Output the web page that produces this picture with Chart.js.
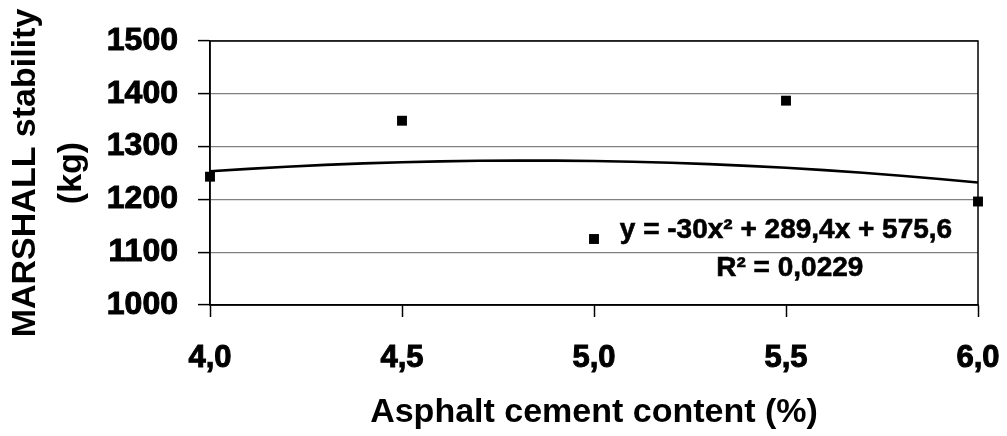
<!DOCTYPE html>
<html>
<head>
<meta charset="utf-8">
<script src="https://cdn.jsdelivr.net/npm/chart.js@4.4.1/dist/chart.umd.min.js"></script>
<style>
  html, body { margin: 0; padding: 0; background: #fff; }
  #wrap { width: 1007px; height: 436px; }
</style>
</head>
<body>
<div id="wrap"><canvas id="myChart"></canvas></div>
<script>
// Data

const acContent = [4.0, 4.5, 5.0, 5.5, 6.0]
const stability = [1243, 1349, 1125, 1387, 1196]
const xTicks = [4.0, 4.5, 5.0, 5.5, 6.0]
const yTicks = [1000, 1100, 1200, 1300, 1400, 1500]

// Polynomial trendline, coefficients as printed on the chart (c0, c1, c2)
const trendCoef = [575.6, 289.4, -30]
const trendX = [4.0, 4.1, 4.2, 4.3, 4.4, 4.5, 4.6, 4.7, 4.8, 4.9, 5.0,
  5.1, 5.2, 5.3, 5.4, 5.5, 5.6, 5.7, 5.8, 5.9, 6.0]
const eqText = ["y = -30x\u00B2 + 289,4x + 575,6", "R\u00B2 = 0,0229"]

const trendPts = trendX.map(x => ({ x: x, y: trendCoef[0] + trendCoef[1] * x + trendCoef[2] * x * x }))
const points = acContent.map((x, i) => ({ x: x, y: stability[i] }))

const comma = v => v.toFixed(1).replace(".", ",")

// Plot frame + equation label
const frameAndLabel = {
  id: "frameAndLabel",
  afterDatasetsDraw(chart) {
    const { ctx, chartArea: a, scales } = chart
    ctx.save()
    ctx.strokeStyle = "#000"
    ctx.lineWidth = 1.5
    ctx.strokeRect(a.left, a.top, a.right - a.left, a.bottom - a.top)
    ctx.fillStyle = "#000"
    ctx.font = 'bold 28px "Liberation Sans", Arial, sans-serif'
    ctx.textAlign = "center"
    ctx.textBaseline = "middle"
    ctx.lineWidth = 0.6
    const e1 = [scales.x.getPixelForValue(5.5), scales.y.getPixelForValue(1142)]
    const e2 = [scales.x.getPixelForValue(5.51), scales.y.getPixelForValue(1070)]
    ctx.fillText(eqText[0], e1[0], e1[1])
    ctx.strokeText(eqText[0], e1[0], e1[1])
    ctx.fillText(eqText[1], e2[0], e2[1])
    ctx.strokeText(eqText[1], e2[0], e2[1])
    ctx.restore()
  },
}

const ctx = document.getElementById("myChart")

new Chart(ctx, {
  type: "scatter",
  data: {
    datasets: [
      {
        label: "Stability",
        data: points,
        pointStyle: "rect",
        pointRadius: 7,
        pointHoverRadius: 7,
        backgroundColor: "#000",
        borderColor: "#000",
        borderWidth: 0,
        clip: false,
        order: 0,
      },
      {
        label: "Trend",
        type: "line",
        data: trendPts,
        borderColor: "#000",
        borderWidth: 2.6,
        pointRadius: 0,
        fill: false,
        order: 1,
      },
    ],
  },
  options: {
    responsive: true,
    maintainAspectRatio: false,
    animation: false,
    layout: { padding: { top: 41, right: 29, left: 0, bottom: 0 } },
    plugins: {
      legend: { display: false },
      tooltip: { enabled: false },
    },
    scales: {
      x: {
        type: "linear",
        min: 4,
        max: 6,
        afterBuildTicks: s => { s.ticks = xTicks.map(v => ({ value: v })) },
        afterFit: s => {
          s.height = 131
          s.paddingLeft = 0
          s.paddingRight = 0
        },
        border: { display: true, color: "#000", width: 1.5 },
        grid: { drawOnChartArea: false, drawTicks: true, tickLength: 12, tickColor: "#000", tickWidth: 1.5 },
        ticks: {
          color: "#000",
          padding: 23,
          maxRotation: 0,
          textStrokeColor: "#000",
          textStrokeWidth: 1,
          font: { family: '"Liberation Sans", Arial', size: 31, weight: "bold" },
          callback: v => comma(v),
        },
        title: {
          display: true,
          text: "Asphalt cement content (%)",
          color: "#000",
          padding: { top: 0, bottom: 3 },
          font: { family: '"Liberation Sans", Arial', size: 34, weight: "bold", lineHeight: 1.2 },
        },
      },
      y: {
        min: 1000,
        max: 1500,
        afterBuildTicks: s => { s.ticks = yTicks.map(v => ({ value: v })) },
        afterFit: s => { s.width = 210 },
        border: { display: true, color: "#000", width: 1.5 },
        grid: {
          color: "#808080",
          lineWidth: 1.2,
          drawTicks: true,
          tickLength: 12,
          tickColor: "#000",
          tickWidth: 1.5,
        },
        ticks: {
          color: "#000",
          padding: 20,
          textStrokeColor: "#000",
          textStrokeWidth: 1,
          font: { family: '"Liberation Sans", Arial', size: 32, weight: "bold" },
          callback: v => String(v),
        },
        title: {
          display: true,
          text: ["MARSHALL stability", "(kg)"],
          color: "#000",
          padding: { top: 3, bottom: 0 },
          font: { family: '"Liberation Sans", Arial', size: 34, weight: "bold", lineHeight: 1.35 },
        },
      },
    },
  },
  plugins: [frameAndLabel],
});
</script>
</body>
</html>
